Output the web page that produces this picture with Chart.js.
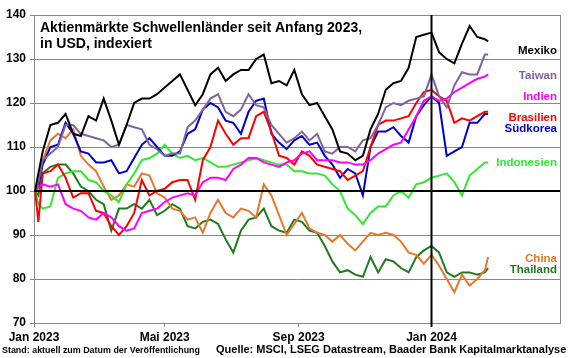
<!DOCTYPE html>
<html>
<head>
<meta charset="utf-8">
<script src="https://cdn.jsdelivr.net/npm/chart.js@4.4.1/dist/chart.umd.min.js"></script>
<style>
  html, body { margin: 0; padding: 0; background: #fff; }
</style>
</head>
<body>
<canvas id="chart" width="580" height="358"></canvas>
<script>
// ---- data (weekly readings, index 2 Jan 2023 = 100) ----
const dates = [
  '2023-01-02', '2023-01-05',
  '2023-01-09', '2023-01-16', '2023-01-23', '2023-01-30',
  '2023-02-06', '2023-02-13', '2023-02-20', '2023-02-27',
  '2023-03-06', '2023-03-13', '2023-03-20', '2023-03-27',
  '2023-04-03', '2023-04-10', '2023-04-17', '2023-04-24',
  '2023-05-01', '2023-05-08', '2023-05-15', '2023-05-22', '2023-05-29',
  '2023-06-05', '2023-06-12', '2023-06-19', '2023-06-26',
  '2023-07-03', '2023-07-10', '2023-07-17', '2023-07-24', '2023-07-31',
  '2023-08-07', '2023-08-14', '2023-08-21', '2023-08-28',
  '2023-09-04', '2023-09-11', '2023-09-18', '2023-09-25',
  '2023-10-02', '2023-10-09', '2023-10-16', '2023-10-23', '2023-10-30',
  '2023-11-06', '2023-11-13', '2023-11-20', '2023-11-27',
  '2023-12-04', '2023-12-11', '2023-12-18', '2023-12-25',
  '2024-01-01', '2024-01-08', '2024-01-15', '2024-01-22', '2024-01-29',
  '2024-02-05', '2024-02-12', '2024-02-19', '2024-02-22'
];

const mexiko = [100, 104,
  109, 115, 115.5, 117.5, 113, 112.5, 117, 116, 121, 116, 110.5, 115, 120, 121, 121, 122,
  123.5, 125, 126.5, 123, 119.5, 122, 126.5, 128, 125, 126.5, 127.5, 127.5, 130, 131,
  124.5, 125, 124, 127.5, 122, 119.5, 120, 117, 114, 109, 108.5, 107, 108, 114, 117.5,
  123, 124.5, 125, 128, 135, 135.5, 136, 131.5, 130, 129, 133.5, 137.5, 135, 134.5, 134];
const taiwan = [100, 102,
  107, 108.5, 110, 115, 115, 113, 112.5, 112, 111.5, 110, 110.5, 115, 114.5, 114, 110.5,
  109.5, 108, 108.5, 108.5, 114.5, 116, 118.5, 121, 122, 118, 117, 118.5, 122, 119.5, 119,
  115, 113, 111, 112, 113.5, 111.5, 113, 109, 108.5, 110, 110, 109, 111.5, 112, 115, 119,
  120, 119.5, 120.5, 121, 121.5, 126.5, 121.5, 119, 124, 127, 126.5, 126.5, 131, 131];
const indien = [100, 101,
  101.5, 101, 101.5, 97, 96, 95.5, 94, 93.5, 95, 94, 92, 91, 91.5, 95, 95.5, 96, 97.5,
  98.5, 99, 99.5, 99, 102, 103, 103, 102.5, 105, 106, 107.5, 107.5, 106.5, 106, 105.5,
  106.5, 107, 108.5, 109, 107, 107, 107, 106.5, 106.5, 106, 106, 107, 108.5, 109.5, 110.5,
  111, 114, 117, 120.5, 121.5, 120.5, 121, 122.5, 123.5, 124.5, 125.5, 126, 126.5];
const brasilien = [100, 93,
  104, 104.5, 106, 103, 98.5, 99.5, 99.5, 95.5, 95, 92, 90, 92, 95, 102.5, 99, 100, 100.5,
  102, 102.5, 102.5, 98, 107, 110, 116, 113, 110.5, 112, 112, 117, 118, 113.5, 108, 107.5,
  106, 109, 108, 106, 105.5, 105, 104.5, 102.5, 103.5, 104.5, 110, 115, 116, 116, 116.5,
  117, 120, 122.5, 123, 121.5, 120.5, 115.5, 116.5, 116, 117, 118, 118];
const suedkorea = [100, 101,
  106, 110, 110.5, 115.5, 113, 109, 108.5, 106.5, 106.5, 107, 104, 104.5, 107.5, 110.5,
  112, 110, 108, 108, 109, 113, 114, 118.5, 120, 119, 116, 115.5, 113, 118, 120.5, 121,
  113, 111, 109.5, 111.5, 112.5, 110.5, 111, 108, 106, 103, 105, 104, 99, 110, 113.5,
  113.5, 114.5, 112.5, 111, 117, 119.5, 121.5, 120, 108, 109, 110, 115.5, 115.5, 117.5, 117.5];
const indonesien = [100, 97,
  96, 96.5, 103, 104, 104.5, 104.5, 102.5, 102, 100, 99, 97.5, 101.5, 104, 107, 107.5,
  108.5, 110.5, 108.5, 107.5, 108, 107, 107.5, 106.5, 105.5, 105.5, 106, 106.5, 107,
  107.5, 107, 106.5, 106, 106, 104.5, 104.5, 104, 104, 103.5, 101.5, 100, 96, 94.5, 92.5,
  95, 96.5, 96.5, 99, 100, 98.5, 101.5, 102, 103, 103.5, 104, 102, 99, 103.5, 105, 106.5, 106.5];
const china = [100, 103,
  107, 111.5, 113, 112, 114, 108, 106, 104.5, 101, 98, 99, 101.5, 101, 104, 103.5, 99.5,
  98.5, 96, 95.5, 93.5, 94, 90.5, 95, 98, 95, 94, 96, 95.5, 94, 101.5, 99, 94.5, 90, 92.5,
  95, 91.5, 90.5, 90, 88.5, 90, 88, 86.5, 88.5, 90.5, 90, 90.5, 90, 88.5, 86, 85.5, 83.5,
  85.5, 83, 80, 77, 81, 78.5, 80, 82, 85];
const thailand = [100, 99,
  104, 105.5, 106, 106, 104, 101, 100, 98, 97, 91, 96, 96, 97, 96, 98, 94.5, 95.5, 97, 96,
  92, 91.5, 93, 93.5, 92.5, 89, 86, 91, 93.5, 94, 96, 92, 91, 90.5, 93.5, 93, 91, 90.5,
  87.5, 84, 81.5, 82, 81, 80.5, 85, 81.5, 84.5, 84, 82.5, 81.5, 85, 86.5, 87.5, 86, 81.5,
  80.5, 81.5, 81.5, 81, 81.5, 82.5];

const seriesNames = ['Mexiko', 'Taiwan', 'Indien', 'Brasilien', 'Südkorea', 'Indonesien', 'China', 'Thailand'];
const seriesValues = [mexiko, taiwan, indien, brasilien, suedkorea, indonesien, china, thailand];
const seriesColors = ['#000000', '#8064A2', '#FF00FF', '#FF0000', '#0000CC', '#33E833', '#E8772A', '#1F7A1F'];

const tickDates = ['2023-01-01', '2023-05-01', '2023-09-01', '2024-01-01'];
const tickLabels = ['Jan 2023', 'Mai 2023', 'Sep 2023', 'Jan 2024'];
const axisEndDate = '2024-04-28';
const markerDate = '2024-01-01';

// ---- helpers ----
const FONT = 'Arial, "Liberation Sans", sans-serif';
const day0 = Date.UTC(2023, 0, 1);
function dayOf(s) {
  const p = s.split('-').map(Number);
  return (Date.UTC(p[0], p[1] - 1, p[2]) - day0) / 86400000;
}

// right-hand series labels: baseline y in px
const labelBaselines = [54, 79, 100, 121, 132, 166, 262, 273];

const datasets = seriesNames.map((name, i) => ({
  label: name,
  data: seriesValues[i].map((v, j) => ({ x: dayOf(dates[j]), y: v })),
  borderColor: seriesColors[i],
  borderWidth: 2,
  pointRadius: 0,
  tension: 0,
  fill: false
}));

/** ---------------- overlay: 100-line, Jan 2024 marker, texts ---------------- **/
const overlay = {
  id: 'overlay',
  afterDatasetsDraw(chart) {
    const ctx = chart.ctx;
    const area = chart.chartArea;
    const xs = chart.scales.x, ys = chart.scales.y;
    ctx.save();
    // right border
    ctx.strokeStyle = '#888';
    ctx.lineWidth = 1;
    ctx.beginPath();
    ctx.moveTo(Math.round(area.right) + 0.5, area.top);
    ctx.lineTo(Math.round(area.right) + 0.5, area.bottom);
    ctx.stroke();
    // index 100 line
    const y100 = ys.getPixelForValue(100);
    ctx.strokeStyle = '#000';
    ctx.lineWidth = 2;
    ctx.beginPath();
    ctx.moveTo(area.left, y100);
    ctx.lineTo(area.right, y100);
    ctx.stroke();
    // Jan 2024 marker
    const xm = xs.getPixelForValue(dayOf(markerDate));
    ctx.beginPath();
    ctx.moveTo(xm, area.top);
    ctx.lineTo(xm, area.bottom + 4);
    ctx.stroke();
    ctx.restore();
  },
  afterDraw(chart) {
    const ctx = chart.ctx;
    ctx.save();
    ctx.fillStyle = '#000';
    ctx.textAlign = 'left';
    ctx.textBaseline = 'alphabetic';
    ctx.font = 'bold 14px ' + FONT;
    ctx.fillText('Aktienmärkte Schwellenländer seit Anfang 2023,', 40, 32, 333);
    ctx.fillText('in USD, indexiert', 40, 48);

    ctx.textAlign = 'right';
    ctx.font = 'bold 11.5px ' + FONT;
    seriesNames.forEach((name, i) => {
      ctx.fillStyle = seriesColors[i];
      ctx.fillText(name, 557, labelBaselines[i]);
    });

    ctx.fillStyle = '#000';
    ctx.textAlign = 'left';
    ctx.font = 'bold 9.5px ' + FONT;
    ctx.fillText('Stand: aktuell zum Datum der Veröffentlichung', 2, 353, 198);
    ctx.font = 'bold 11px ' + FONT;
    ctx.fillText('Quelle: MSCI, LSEG Datastream, Baader Bank Kapitalmarktanalyse', 216, 353, 361);
    ctx.restore();
  }
};

new Chart(document.getElementById('chart'), {
  type: 'line',
  data: { datasets },
  plugins: [overlay],
  options: {
    responsive: false,
    animation: false,
    events: [],
    layout: { padding: { top: 15, right: 20, left: 0, bottom: 0 } },
    plugins: { legend: { display: false }, tooltip: { enabled: false } },
    scales: {
      x: {
        type: 'linear',
        min: 0,
        max: dayOf(axisEndDate),
        afterBuildTicks: s => { s.ticks = tickDates.map(d => ({ value: dayOf(d) })); },
        afterFit: s => { s.height = 35; },
        ticks: {
          autoSkip: false,
          maxRotation: 0,
          color: '#000',
          padding: 3,
          font: { family: FONT, size: 12, weight: 'bold' },
          callback: (v, i) => tickLabels[i]
        },
        grid: { drawOnChartArea: false, drawTicks: true, tickLength: 4, color: '#888' },
        border: { color: '#888', width: 1 }
      },
      y: {
        min: 70,
        max: 140,
        afterFit: s => { s.width = 34; },
        ticks: {
          stepSize: 10,
          color: '#000',
          padding: 4,
          font: { family: FONT, size: 12, weight: 'bold' }
        },
        grid: { color: '#888', lineWidth: 1, tickLength: 4 },
        border: { color: '#888', width: 1 }
      }
    }
  }
});
</script>
</body>
</html>
